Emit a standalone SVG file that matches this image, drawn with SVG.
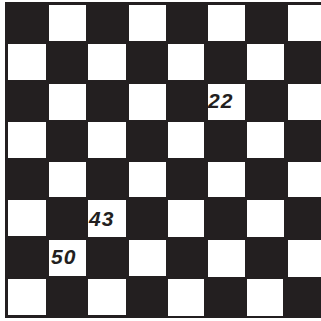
<svg xmlns="http://www.w3.org/2000/svg" width="321" height="321" viewBox="0 0 321 321">
<style>
.bd{fill:#231f20}
.w{fill:#ffffff}
.n{font-family:"Liberation Sans",Arial,sans-serif;font-weight:bold;font-style:italic;font-size:21px;letter-spacing:1px;fill:#231f20}
</style>
<rect x="0" y="0" width="321" height="321" fill="#ffffff"/>
<g id="board">
<rect class="bd" x="5" y="2" width="320" height="316"/>
<!-- row 1 -->
<rect class="w" x="49" y="5" width="37" height="36"/>
<rect class="w" x="129" y="5" width="37" height="36"/>
<rect class="w" x="208" y="5" width="37" height="36"/>
<rect class="w" x="288" y="5" width="40" height="36"/>
<!-- row 2 -->
<rect class="w" x="8" y="44" width="38" height="36"/>
<rect class="w" x="88" y="44" width="38" height="36"/>
<rect class="w" x="168" y="44" width="36" height="36"/>
<rect class="w" x="247" y="44" width="37" height="36"/>
<!-- row 3 -->
<rect class="w" x="49" y="84" width="37" height="36"/>
<rect class="w" x="129" y="84" width="37" height="36"/>
<rect class="w" x="208" y="84" width="37" height="36"/>
<rect class="w" x="288" y="84" width="40" height="36"/>
<!-- row 4 -->
<rect class="w" x="8" y="122" width="38" height="36"/>
<rect class="w" x="88" y="122" width="38" height="36"/>
<rect class="w" x="168" y="122" width="36" height="36"/>
<rect class="w" x="247" y="122" width="37" height="36"/>
<!-- row 5 -->
<rect class="w" x="49" y="162" width="37" height="35"/>
<rect class="w" x="129" y="162" width="37" height="35"/>
<rect class="w" x="208" y="162" width="37" height="35"/>
<rect class="w" x="288" y="162" width="40" height="35"/>
<!-- row 6 -->
<rect class="w" x="8" y="200" width="38" height="36"/>
<rect class="w" x="88" y="200" width="38" height="37"/>
<rect class="w" x="168" y="200" width="36" height="37"/>
<rect class="w" x="247" y="200" width="37" height="37"/>
<!-- row 7 -->
<rect class="w" x="49" y="240" width="37" height="36"/>
<rect class="w" x="129" y="240" width="37" height="36"/>
<rect class="w" x="208" y="240" width="37" height="37"/>
<rect class="w" x="288" y="240" width="40" height="37"/>
<!-- row 8 -->
<rect class="w" x="8" y="279" width="38" height="36"/>
<rect class="w" x="88" y="279" width="38" height="36"/>
<rect class="w" x="168" y="279" width="36" height="37"/>
<rect class="w" x="247" y="279" width="36" height="37"/>
</g>
<g id="labels">
<text class="n" x="208" y="108">22</text>
<text class="n" x="89" y="226">43</text>
<text class="n" x="51" y="264">50</text>
</g>
<g id="connectors"/>
</svg>
